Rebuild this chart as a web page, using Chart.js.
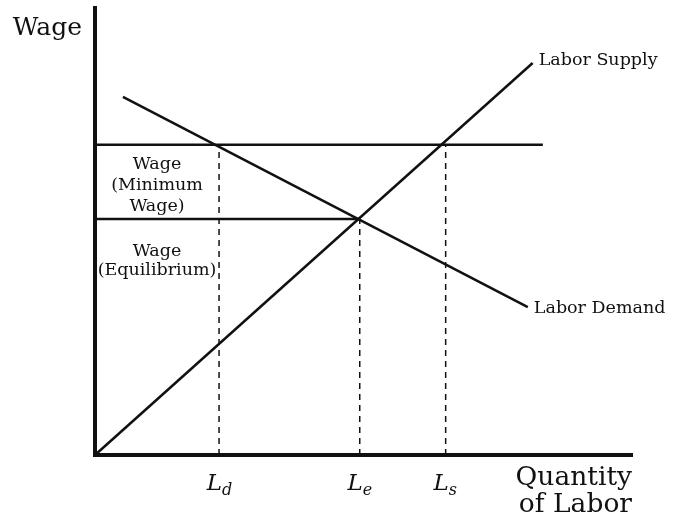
<!DOCTYPE html>
<html>
<head>
<meta charset="utf-8">
<script src="https://cdn.jsdelivr.net/npm/chart.js@4"></script>
<style>
  html, body { margin: 0; padding: 0; background: #fff; }
  #wrap { width: 673px; height: 525px; }
</style>
</head>
<body>
<div id="wrap"><canvas id="myChart" width="673" height="525"></canvas></div>
<script>
// curves (x = quantity of labor, y = wage), arbitrary units 0..10
const supplyX = [0, 8.15];
const supplyY = [0, 8.77];
const demandX = [0.52, 8.06];
const demandY = [8.01, 3.31];

// wage levels
const minWage = 6.94;
const eqWage = 5.28;
const minWageEnd = 8.34;

// quantities marked on the x axis
const qLabels = ['d', 'e', 's'];
const qValues = [2.31, 4.93, 6.53];
const qWages = [minWage, eqWage, minWage];

const serif = '"DejaVu Serif", "Liberation Serif", serif';

const line = (xs, ys) => xs.map((x, i) => ({ x: x, y: ys[i] }));

const datasets = [
    { data: line(supplyX, supplyY), borderColor: '#111', borderWidth: 2.5 },
    { data: line(demandX, demandY), borderColor: '#111', borderWidth: 2.5 },
    { data: line([0, minWageEnd], [minWage, minWage]), borderColor: '#111', borderWidth: 2.5 },
    { data: line([0, qValues[1]], [eqWage, eqWage]), borderColor: '#111', borderWidth: 2.5 }
];
qValues.forEach((q, i) => {
    datasets.push({
        data: line([q, q], [0, qWages[i]]),
        borderColor: '#111',
        borderWidth: 1.5,
        borderDash: [6, 5]
    });
});
datasets.forEach(d => { d.showLine = true; d.pointRadius = 0; d.fill = false; d.clip = false; });

const labels = {
    id: 'labels',
    afterDraw(chart) {
        const ctx = chart.ctx;
        const x = chart.scales.x, y = chart.scales.y;
        ctx.save();
        ctx.fillStyle = '#111';
        ctx.textBaseline = 'alphabetic';

        ctx.font = '25px ' + serif;
        ctx.textAlign = 'right';
        ctx.fillText('Wage', x.left - 13, 35);

        ctx.font = '17.5px ' + serif;
        ctx.textAlign = 'left';
        ctx.fillText('Labor Supply', x.getPixelForValue(supplyX[1]) + 6, y.getPixelForValue(supplyY[1]) + 2);
        ctx.fillText('Labor Demand', x.getPixelForValue(demandX[1]) + 6, y.getPixelForValue(demandY[1]) + 6);

        // box labels
        ctx.textAlign = 'center';
        ctx.font = '17.5px ' + serif;
        const bx = (x.getPixelForValue(0) + x.getPixelForValue(qValues[0])) / 2;
        const yMin = y.getPixelForValue(minWage);
        const yEq = y.getPixelForValue(eqWage);
        ctx.fillText('Wage', bx, yMin + 24);
        ctx.fillText('(Minimum', bx, yMin + 45);
        ctx.fillText('Wage)', bx, yMin + 66);
        ctx.fillText('Wage', bx, yEq + 37);
        ctx.fillText('(Equilibrium)', bx, yEq + 56);

        // L_d, L_e, L_s
        const base = y.bottom + 35;
        qValues.forEach((q, i) => {
            const px = x.getPixelForValue(q);
            ctx.font = 'italic 23px ' + serif;
            ctx.textAlign = 'right';
            ctx.fillText('L', px + 3, base);
            ctx.font = 'italic 16px ' + serif;
            ctx.textAlign = 'left';
            ctx.fillText(qLabels[i], px + 3, base + 5);
        });

        ctx.font = '26.5px ' + serif;
        ctx.textAlign = 'right';
        ctx.fillText('Quantity', x.right, base - 5);
        ctx.fillText('of Labor', x.right, base + 22);
        ctx.restore();
    }
};

const ctx = document.getElementById('myChart').getContext('2d');
const myChart = new Chart(ctx, {
    type: 'scatter',
    data: { datasets: datasets },
    options: {
        responsive: false,
        animation: false,
        layout: { padding: { left: 95, right: 41, top: 8, bottom: 70 } },
        plugins: { legend: { display: false }, tooltip: { enabled: false } },
        scales: {
            x: {
                min: 0, max: 10,
                grid: { display: false, drawTicks: false },
                ticks: { display: false },
                border: { display: true, color: '#111', width: 4 }
            },
            y: {
                min: 0, max: 10,
                grid: { display: false, drawTicks: false },
                ticks: { display: false },
                border: { display: true, color: '#111', width: 4 }
            }
        }
    },
    plugins: [labels]
});
</script>
</body>
</html>
